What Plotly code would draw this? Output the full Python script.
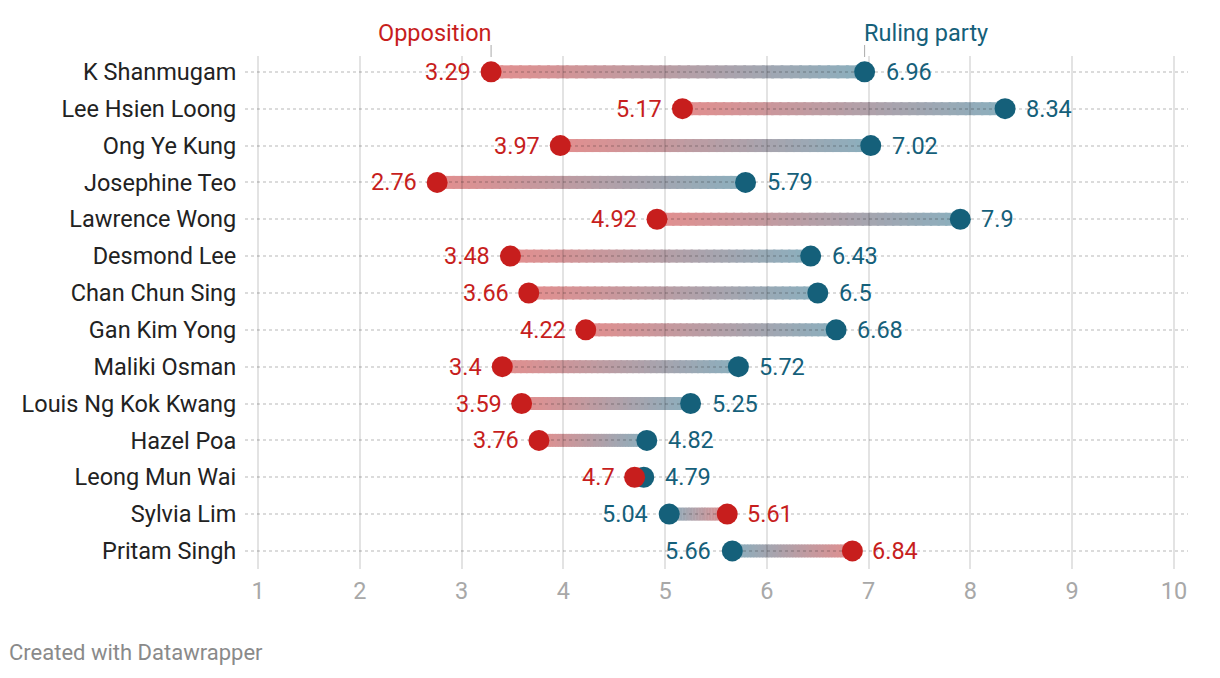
import plotly.graph_objects as go

names = ["K Shanmugam", "Lee Hsien Loong", "Ong Ye Kung", "Josephine Teo", "Lawrence Wong",
         "Desmond Lee", "Chan Chun Sing", "Gan Kim Yong", "Maliki Osman", "Louis Ng Kok Kwang",
         "Hazel Poa", "Leong Mun Wai", "Sylvia Lim", "Pritam Singh"]
opposition = [3.29, 5.17, 3.97, 2.76, 4.92, 3.48, 3.66, 4.22, 3.4, 3.59, 3.76, 4.7, 5.61, 6.84]
ruling = [6.96, 8.34, 7.02, 5.79, 7.9, 6.43, 6.5, 6.68, 5.72, 5.25, 4.82, 4.79, 5.04, 5.66]
x_ticks = [1, 2, 3, 4, 5, 6, 7, 8, 9, 10]

RED = "#c71e1d"
BLUE = "#15607a"
RED_L = (227, 142, 142)
BLUE_L = (138, 175, 190)
FONT = "Roboto"
FS = 23.5

rows = list(range(len(names)))

fig = go.Figure()

# gradient connectors
shapes = []
N = 40
for i, (r, b) in enumerate(zip(opposition, ruling)):
    span = b - r
    for k in range(N):
        t = (k + 0.5) / N
        c = tuple(round(RED_L[j] + (BLUE_L[j] - RED_L[j]) * t) for j in range(3))
        xa = r + span * k / N
        xb = r + span * (k + 1) / N
        lo, hi = min(xa, xb), max(xa, xb)
        hi += abs(span) / N * 0.3
        shapes.append(dict(type="rect", xref="x", yref="y", x0=lo, x1=hi,
                           ysizemode="pixel", yanchor=i, y0=-6.5, y1=6.5,
                           fillcolor="rgb(%d,%d,%d)" % c, line=dict(width=0),
                           layer="below"))

# small ticks for header labels
for xv in (opposition[0], ruling[0]):
    shapes.append(dict(type="line", xref="x", yref="paper", x0=xv, x1=xv,
                       y0=(569 - 57) / 513, y1=(569 - 45) / 513,
                       line=dict(color="#aaaaaa", width=1)))

fig.add_trace(go.Scatter(x=ruling, y=rows, mode="markers",
                         marker=dict(color=BLUE, size=21, line=dict(width=0)),
                         hoverinfo="skip", showlegend=False))
fig.add_trace(go.Scatter(x=opposition, y=rows, mode="markers",
                         marker=dict(color=RED, size=21, line=dict(width=0)),
                         hoverinfo="skip", showlegend=False))

annotations = []
for i, (r, b) in enumerate(zip(opposition, ruling)):
    rl = r < b
    annotations.append(dict(x=r, y=i, xref="x", yref="y", text=f"{r:g}", showarrow=False,
                            xanchor="right" if rl else "left", xshift=-18 if rl else 18,
                            font=dict(family=FONT, size=FS, color=RED)))
    annotations.append(dict(x=b, y=i, xref="x", yref="y", text=f"{b:g}", showarrow=False,
                            xanchor="left" if rl else "right", xshift=19 if rl else -19,
                            font=dict(family=FONT, size=FS, color=BLUE)))

annotations.append(dict(x=opposition[0], y=(569 - 33) / 513, xref="x", yref="paper",
                        text="Opposition", showarrow=False, xanchor="right", yanchor="middle",
                        xshift=3, font=dict(family=FONT, size=FS, color=RED)))
annotations.append(dict(x=ruling[0], y=(569 - 33) / 513, xref="x", yref="paper",
                        text="Ruling party", showarrow=False, xanchor="left", yanchor="middle",
                        xshift=-3, font=dict(family=FONT, size=FS, color=BLUE)))
annotations.append(dict(x=(10 - 245) / 943, y=(569 - 652) / 513, xref="paper", yref="paper",
                        text="Created with Datawrapper", showarrow=False, xanchor="left",
                        xshift=-3,
                        yanchor="middle", font=dict(family=FONT, size=22, color="#8a8a8a")))

fig.update_layout(
    width=1220, height=678,
    margin=dict(l=245, r=32, t=56, b=109),
    paper_bgcolor="white", plot_bgcolor="rgba(0,0,0,0)",
    shapes=shapes, annotations=annotations,
    font=dict(family=FONT),
    xaxis=dict(range=[0.872, 10.1375], tickvals=x_ticks, ticktext=[str(v) for v in x_ticks],
               showgrid=True, gridcolor="rgba(0,0,0,0.11)", gridwidth=2, zeroline=False,
               showline=False, ticks="outside", ticklen=1, tickcolor="rgba(0,0,0,0)",
               tickfont=dict(family=FONT, size=FS, color="#a8a8a8"), fixedrange=True),
    yaxis=dict(range=[13.49, -0.43], tickvals=rows, ticktext=names,
               showgrid=True, gridcolor="rgba(0,0,0,0.14)", gridwidth=1.5, griddash="dot",
               zeroline=False, showline=False, ticks="outside", ticklen=3,
               tickcolor="rgba(0,0,0,0)",
               tickfont=dict(family=FONT, size=FS, color="#222222"), fixedrange=True),
)

fig.write_html("out.html")
